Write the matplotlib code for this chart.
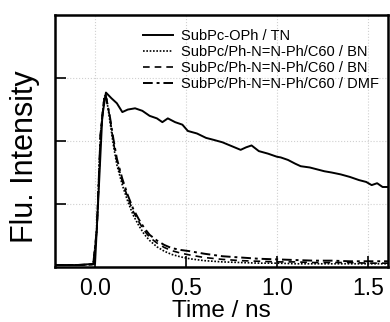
import matplotlib
matplotlib.use("Agg")
import matplotlib.pyplot as plt

plt.rcParams['font.family'] = ['Liberation Sans', 'DejaVu Sans']

# SubPc-OPh / TN (slow)
t_tn = [-0.22, -0.10, 0.00, 0.02, 0.04, 0.06, 0.09, 0.12, 0.15, 0.18, 0.22, 0.26, 0.30, 0.34,
        0.37, 0.40, 0.44, 0.48, 0.51, 0.56, 0.61, 0.65, 0.70, 0.75, 0.80, 0.83, 0.86, 0.90,
        0.95, 1.00, 1.02, 1.06, 1.10, 1.13, 1.18, 1.22, 1.26, 1.30, 1.35, 1.40, 1.45, 1.49,
        1.52, 1.55, 1.58, 1.61]
y_tn = [0.03, 0.03, 0.05, 1.2, 2.4, 2.77, 2.68, 2.60, 2.46, 2.50, 2.52, 2.48, 2.40, 2.36,
        2.30, 2.36, 2.30, 2.26, 2.16, 2.12, 2.05, 2.02, 1.98, 1.92, 1.86, 1.90, 1.93, 1.84,
        1.80, 1.75, 1.74, 1.70, 1.64, 1.60, 1.58, 1.55, 1.52, 1.50, 1.47, 1.43, 1.38, 1.35,
        1.30, 1.33, 1.27, 1.27]

# Fast decays
t_fast = [-0.22, -0.10, -0.01, 0.01, 0.03, 0.05, 0.06, 0.08, 0.10, 0.12, 0.15, 0.18, 0.21,
          0.24, 0.27, 0.30, 0.34, 0.38, 0.42, 0.47, 0.52, 0.60, 0.70, 0.80, 0.90, 1.00,
          1.10, 1.20, 1.30, 1.40, 1.50, 1.61]
y_bn1 = [0.03, 0.03, 0.04, 0.6, 2.1, 2.70, 2.74, 2.35, 1.95, 1.62, 1.30, 1.04, 0.82,
         0.66, 0.52, 0.42, 0.32, 0.25, 0.20, 0.16, 0.13, 0.10, 0.08, 0.07, 0.06, 0.06,
         0.05, 0.05, 0.05, 0.05, 0.05, 0.05]
y_bn2 = [0.03, 0.03, 0.04, 0.6, 2.1, 2.68, 2.72, 2.40, 2.00, 1.68, 1.36, 1.10, 0.88,
         0.72, 0.58, 0.47, 0.38, 0.31, 0.26, 0.22, 0.19, 0.15, 0.12, 0.10, 0.09, 0.08,
         0.08, 0.07, 0.07, 0.07, 0.06, 0.06]
y_dmf = [0.03, 0.03, 0.04, 0.6, 2.1, 2.66, 2.70, 2.42, 2.05, 1.72, 1.40, 1.14, 0.92,
         0.76, 0.62, 0.51, 0.42, 0.35, 0.30, 0.27, 0.25, 0.21, 0.17, 0.15, 0.13, 0.12,
         0.11, 0.10, 0.10, 0.09, 0.09, 0.09]

labels = ["SubPc-OPh / TN", "SubPc/Ph-N=N-Ph/C60 / BN",
          "SubPc/Ph-N=N-Ph/C60 / BN", "SubPc/Ph-N=N-Ph/C60 / DMF"]
x_ticks = [0.0, 0.5, 1.0, 1.5]
y_ticks = [1, 2, 3]

fig = plt.figure(figsize=(3.9, 3.22), dpi=100)
ax = fig.add_axes([0.141, 0.171, 0.854, 0.782])

ax.plot(t_tn, y_tn, color='black', lw=1.4, ls='-', label=labels[0])
ax.plot(t_fast, y_bn1, color='black', lw=1.2, ls=(0, (1, 1)), label=labels[1])
ax.plot(t_fast, y_bn2, color='black', lw=1.2, ls=(0, (4, 3)), label=labels[2])
ax.plot(t_fast, y_dmf, color='black', lw=1.4, ls=(0, (5, 2, 1.5, 2)), label=labels[3])

ax.set_xlim(-0.22, 1.61)
ax.set_ylim(0, 4.0)
ax.set_xticks(x_ticks)
ax.set_xticklabels([f"{v:.1f}" for v in x_ticks], fontsize=16.5)
ax.set_yticks(y_ticks)
ax.set_yticklabels([])
ax.tick_params(axis='both', direction='in', length=8, width=1.2, pad=7)
ax.grid(True, ls=':', color='#d0d0d0', lw=0.8)
for s in ax.spines.values():
    s.set_linewidth(1.8)

ax.set_xlabel("Time / ns", fontsize=17.5, labelpad=0)
ax.set_ylabel("Flu. Intensity", fontsize=22)
ax.yaxis.set_label_coords(-0.045, 0.437)

ax.legend(loc='upper right', bbox_to_anchor=(1.0, 0.98), frameon=False, fontsize=10.5,
          handlelength=2.0, handletextpad=0.6, labelspacing=0.15, borderaxespad=0.2)

fig.savefig("out.png", dpi=100)
